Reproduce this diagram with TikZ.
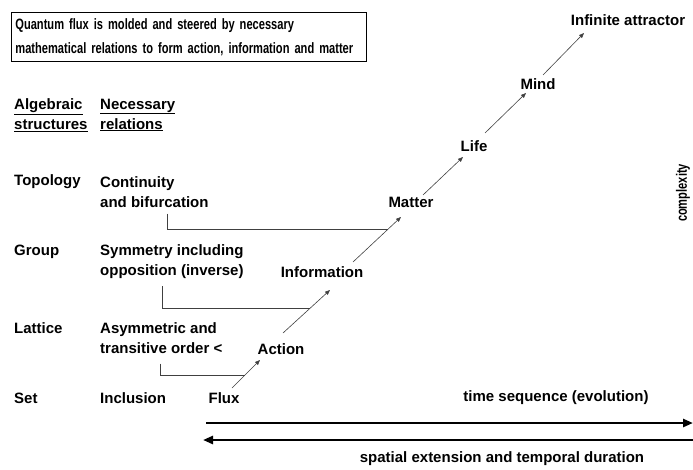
\documentclass[tikz,border=0pt]{standalone}
\usepackage{fontspec}
\setmainfont{Liberation Sans}
\newfontfamily\narrowfont{Liberation Sans}[FakeStretch=0.74]
\usetikzlibrary{arrows.meta}
\newcommand\lblfont{\bfseries\fontsize{15}{20}\selectfont}
\tikzset{
  lbl/.style={font=\lblfont, inner sep=2pt},
  col/.style={lbl, anchor=west, align=left},
  flow/.style={-{Triangle[length=5pt,width=4pt]}, line width=0.6pt, draw=black!75},
  bracket/.style={line width=0.6pt, draw=black!75},
  span/.style={line width=2.6pt, -{Triangle[length=10pt,width=8pt]}}
}
\begin{document}
\begin{tikzpicture}[x=1pt, y=-1pt]
    \useasboundingbox (0,0) rectangle (693,469);

    % title box
    \node[draw, line width=0.8pt, anchor=north west, inner sep=4pt, text width=347pt,
          minimum height=49pt, align=left, font=\narrowfont\bfseries\fontsize{15}{24}\selectfont] (title) at (11,12)
        {Quantum flux is molded and steered by necessary\\mathematical relations to form action, information and matter};

    % column heads
    \node[col] (alg) at (12,115) {\underline{Algebraic}\\\underline{structures}};
    \node[col] (nec) at (98,115) {\underline{Necessary}\\\underline{relations}};

    % structures and relations
    \node[col] (topo) at (12,182) {Topology};
    \node[col] (toporel) at (98,192) {Continuity\\and bifurcation};
    \node[col] (grp) at (12,252) {Group};
    \node[col] (grprel) at (98,262) {Symmetry including\\opposition (inverse)};
    \node[col] (lat) at (12,328) {Lattice};
    \node[col] (latrel) at (98,338) {Asymmetric and\\transitive order <};
    \node[col] (set) at (12,398) {Set};
    \node[col] (incl) at (98,398) {Inclusion};

    % evolution chain
    \node[lbl] (flux) at (224,398) {Flux};
    \node[lbl] (action) at (281,349) {Action};
    \node[lbl] (info) at (322,272) {Information};
    \node[lbl] (matter) at (411,202) {Matter};
    \node[lbl] (life) at (474,146) {Life};
    \node[lbl] (mind) at (538,84) {Mind};
    \node[lbl] (attr) at (628,20) {Infinite attractor};

    \draw[flow] ([xshift=8pt,yshift=10pt]flux.center) -- coordinate[pos=0.46] (c1) ([xshift=-21pt,yshift=-11pt]action.center);
    \draw[flow] ([xshift=2pt,yshift=16pt]action.center) -- coordinate[pos=0.58] (c2) ([xshift=8pt,yshift=-18pt]info.center);
    \draw[flow] ([xshift=31pt,yshift=10pt]info.center) -- coordinate[pos=0.73] (c3) ([xshift=-10pt,yshift=-15pt]matter.center);
    \draw[flow] ([xshift=12pt,yshift=7pt]matter.center) -- ([xshift=-11pt,yshift=-11pt]life.center);
    \draw[flow] ([xshift=11pt,yshift=13pt]life.center) -- ([xshift=-12pt,yshift=-9pt]mind.center);
    \draw[flow] ([xshift=5pt,yshift=9pt]mind.center) -- ([xshift=-44pt,yshift=-13pt]attr.center);

    % relations feeding the chain
    \draw[bracket] ([xshift=12.5pt,yshift=-4pt]toporel.south) |- (c3);
    \draw[bracket] ([xshift=-9.5pt,yshift=-5pt]grprel.south) |- (c2);
    \draw[bracket] ([xshift=-1pt,yshift=-8pt]latrel.south) |- (c1);

    % time and space
    \coordinate (t0) at (206,423);
    \coordinate (t1) at (693,423);
    \coordinate (s0) at (693,440);
    \coordinate (s1) at (203,440);
    \draw[span] (t0) -- (t1);
    \draw[span] (s0) -- (s1);
    \node[lbl] (time) at (556,398) {time sequence (evolution)};
    \node[lbl] (space) at (502,459) {spatial extension and temporal duration};
    \node[lbl, rotate=90, font=\narrowfont\bfseries\fontsize{15}{20}\selectfont] (cplx) at (683,193) {complexity};
\end{tikzpicture}
\end{document}
